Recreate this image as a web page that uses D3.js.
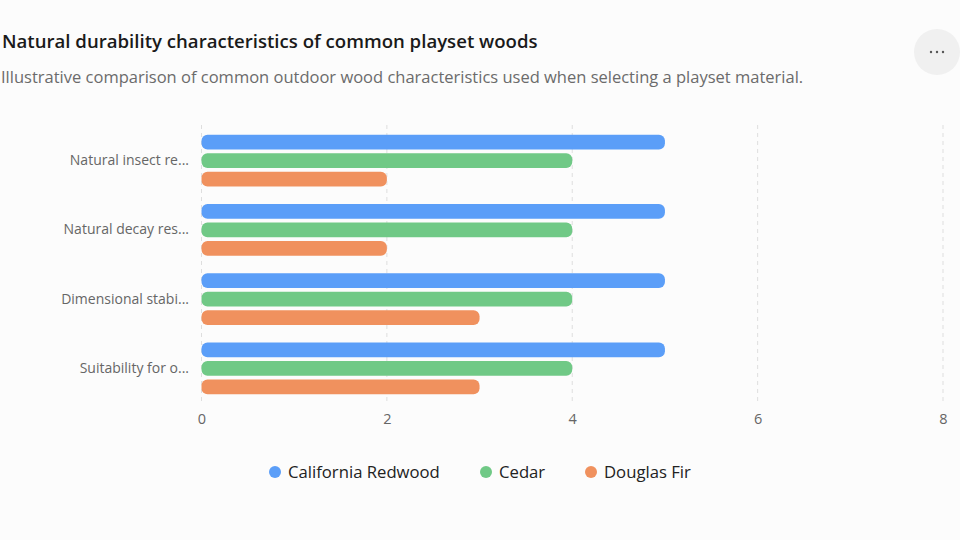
<!DOCTYPE html>
<html><head><meta charset="utf-8">
<script src="https://cdn.jsdelivr.net/npm/d3@7"></script>
<style>
html,body{margin:0;padding:0;background:#fcfcfc;}
svg{display:block;font-family:"Open Sans","Noto Sans",sans-serif;}
</style></head>
<body><svg id="c" width="960" height="540"></svg>
<script>
const categories = ["Natural insect re...", "Natural decay res...", "Dimensional stabi...", "Suitability for o..."];
const seriesNames = ["California Redwood", "Cedar", "Douglas Fir"];
const redwood = [5, 5, 5, 5];
const cedar = [4, 4, 4, 4];
const douglasFir = [2, 2, 3, 3];
const xTicks = [0, 2, 4, 6, 8];
const colors = ["#5b9ef8", "#70c986", "#f0915e"];

const seriesValues = [redwood, cedar, douglasFir];
const svg = d3.select("#c");

svg.append("text").attr("x", 2).attr("y", 48).attr("font-size", 18.6).attr("font-weight", 600)
  .attr("fill", "#1a1a1a").text("Natural durability characteristics of common playset woods");
svg.append("text").attr("x", 1).attr("y", 83).attr("font-size", 16.5).attr("fill", "#6b6b6b")
  .text("Illustrative comparison of common outdoor wood characteristics used when selecting a playset material.");

// more button
const mb = svg.append("g").attr("transform", "translate(937,52)");
mb.append("circle").attr("r", 23).attr("fill", "#f0f0f0");
mb.selectAll("circle.d").data([-6, 0, 6]).enter().append("circle").attr("class", "d")
  .attr("cx", d => d).attr("cy", 0).attr("r", 1.2).attr("fill", "#555");

const x = d3.scaleLinear().domain([0, 8]).range([201.5, 943]);
const y = d3.scaleBand().domain(categories).range([126, 403]).paddingInner(0.25).paddingOuter(0.125);
const ySub = d3.scaleBand().domain(d3.range(seriesNames.length)).range([0, y.bandwidth()]).paddingInner(0.2);

// grid
svg.append("g").selectAll("line").data(xTicks).enter().append("line")
  .attr("x1", d => x(d)).attr("x2", d => x(d)).attr("y1", 125).attr("y2", 402)
  .attr("stroke", "#dedede").attr("stroke-dasharray", "4,4").attr("stroke-width", 1);

// x axis
const xa = svg.append("g").attr("transform", "translate(0,402)")
  .call(d3.axisBottom(x).tickValues(xTicks).tickSize(0).tickPadding(12));
xa.select(".domain").remove();
xa.selectAll("text").attr("font-size", 14.5).attr("fill", "#666").attr("font-family", "Open Sans, Noto Sans, sans-serif");

// y axis
const ya = svg.append("g").attr("transform", "translate(189,0)")
  .call(d3.axisLeft(y).tickSize(0).tickPadding(0));
ya.select(".domain").remove();
ya.selectAll("text").attr("font-size", 14).attr("fill", "#666").attr("font-family", "Open Sans, Noto Sans, sans-serif");

// bars
const groups = svg.append("g").selectAll("g").data(categories).enter().append("g")
  .attr("transform", d => `translate(0,${y(d)})`);
groups.selectAll("rect").data((c, i) => seriesValues.map((s, k) => ({k, v: s[i]}))).enter().append("rect")
  .attr("x", x(0)).attr("y", d => ySub(d.k))
  .attr("width", d => x(d.v) - x(0)).attr("height", ySub.bandwidth())
  .attr("rx", 6).attr("ry", 6).attr("fill", d => colors[d.k]);

// legend
const legendX = [275, 486, 591];
const lg = svg.append("g").selectAll("g").data(seriesNames).enter().append("g")
  .attr("transform", (d, i) => `translate(${legendX[i]},472)`);
lg.append("circle").attr("r", 6).attr("fill", (d, i) => colors[i]);
lg.append("text").attr("x", 13).attr("y", 6).attr("font-size", 16.7).attr("fill", "#222").text(d => d);
</script></body></html>
